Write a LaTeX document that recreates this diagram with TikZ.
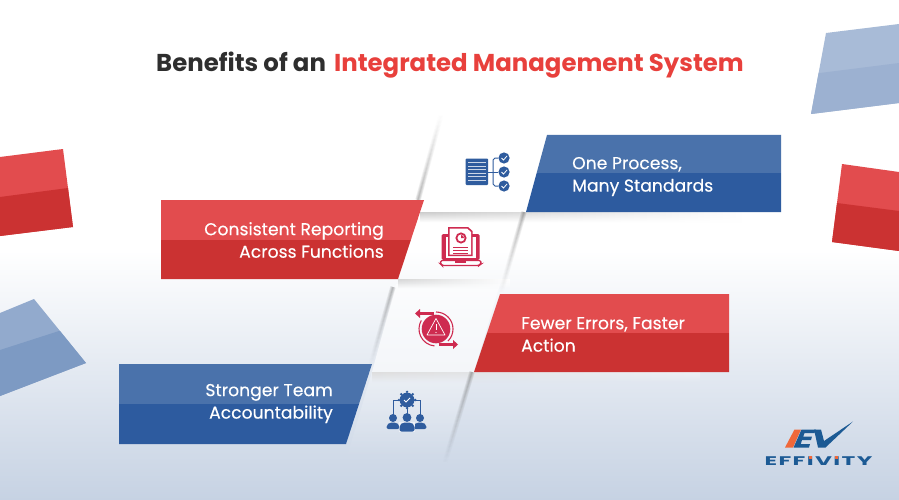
\documentclass[tikz,border=0pt]{standalone}
\usepackage{fontspec}
\setmainfont{Poppins}
\usetikzlibrary{positioning,fadings}
\definecolor{redhi}{HTML}{E24C4E}
\definecolor{redlo}{HTML}{CB3232}
\definecolor{bluehi}{HTML}{4A72AB}
\definecolor{bluelo}{HTML}{2D5B9F}
\definecolor{icored}{HTML}{CE2B50}
\definecolor{icoblue}{HTML}{2F5C9E}
\definecolor{bgend}{HTML}{C6D2E3}
\definecolor{logoblue}{HTML}{1C5A94}
\definecolor{logoora}{HTML}{F0683A}
\definecolor{headred}{HTML}{E8403C}
\tikzset{
	title/.style={font=\fontsize{24.4}{30}\selectfont\bfseries, anchor=base west, inner sep=0pt},
	label/.style={font=\fontsize{17.2}{22.5}\selectfont\addfontfeature{FakeBold=0.25}, text=white, inner sep=0pt},
	streak/.style={draw=black, line cap=butt},
}
% two tone band: #1 top, #2 bottom, #3 outline, #4 split height
\newcommand{\band}[4]{
	\begin{scope}
		\clip #3 -- cycle;
		\fill[#1] (0,0) rectangle (899,#4);
		\fill[#2] (0,#4) rectangle (899,500);
	\end{scope}
}
% soft gray line: #1 fading, #2 from, #3 to
\newcommand{\softline}[3]{
	\foreach \ww in {1,2.5,4,5.5} {
		\draw[streak, line width=\ww pt, path fading=#1, draw opacity=.075] #2 -- #3;
	}
}
\begin{document}
\begin{tikzpicture}[x=1pt, y=-1pt]
	\useasboundingbox (0,0) rectangle (899,500);
	% background
	\fill[white] (0,0) rectangle (899,250);
	\shade[top color=white, bottom color=bgend] (0,250) rectangle (899,500);

	% loose pieces at the sides
	\begin{scope}
		\clip (0,157) -- (63,149) -- (73,227) -- (0,236) -- cycle;
		\fill[redhi] (0,140) rectangle (80,240);
		\fill[redlo] (0,197) -- (68,188) -- (80,188) -- (80,240) -- (0,240) -- cycle;
	\end{scope}
	\begin{scope}
		\clip (0,313) -- (34,299) -- (86,363) -- (0,396) -- cycle;
		\fill[bluehi!60!white] (0,295) rectangle (90,400);
		\fill[bluehi!72!white] (0,350) -- (59,331) -- (90,331) -- (90,400) -- (0,400) -- cycle;
	\end{scope}
	\begin{scope}
		\clip (826,33) -- (899,24) -- (899,103) -- (811,114) -- cycle;
		\fill[bluehi!48!white] (805,20) rectangle (899,120);
		\fill[bluehi!55!white] (820,73) -- (899,63) -- (899,120) -- (805,120) -- (805,73) -- cycle;
	\end{scope}
	\begin{scope}
		\clip (842,164) -- (899,172) -- (899,251) -- (832,242) -- cycle;
		\fill[redhi] (825,160) rectangle (899,255);
		\fill[redlo] (837,203) -- (899,211) -- (899,255) -- (825,255) -- (825,203) -- cycle;
	\end{scope}

	% panels behind the icons
	\fill[white, fill opacity=.6] (396,284) -- (500,284) -- (474,372) -- (372,372) -- cycle;
	\fill[white, fill opacity=.3, path fading=south] (372,372) -- (474,372) -- (447,460) -- (346,460) -- cycle;

	% soft shadows
	\shade[left color=black!20, right color=white, path fading=south] (420,212) rectangle (745,222);
	\shade[left color=black!16, right color=white, path fading=south] (398,279) rectangle (510,288);
	\shade[left color=black!13, right color=white!70!bgend, path fading=south] (372,372) rectangle (700,382);
	\softline{north}{(441,115)}{(418,200)}
	\softline{south}{(524,212)}{(501,292)}
	\softline{south}{(393,287)}{(371,364)}
	\softline{south}{(472,372)}{(445,462)}

	% banners
	\band{bluehi}{bluelo}{(547,135) -- (781,135) -- (781,212) -- (526,212)}{173}
	\band{redhi}{redlo}{(161,200) -- (424,200) -- (398,279) -- (161,279)}{240}
	\band{redhi}{redlo}{(500,294) -- (729,294) -- (729,372) -- (474,372)}{333}
	\band{bluehi}{bluelo}{(119,364) -- (372,364) -- (346,444) -- (119,444)}{404}

	% texts
	\node[title] (head) at (156,72) {\textcolor{black!82}{Benefits of an}\hspace{3pt} \textcolor{headred}{Integrated Management System}};
	\node[label, align=left, anchor=west] (one) at (572,176.5) {One Process,\\Many Standards};
	\node[label, align=right, anchor=east] (two) at (384,240) {Consistent Reporting\\Across Functions};
	\node[label, align=left, anchor=west] (three) at (521,334.5) {Fewer Errors, Faster\\Action};
	\node[label, align=right, anchor=east] (four) at (333,403.5) {Stronger Team\\Accountability};

	% icon: document and checks
	\fill[icoblue, rounded corners=1pt] (465.5,158.5) rectangle (488,185);
	\foreach \yy in {162.5,166,169.5,173,176.5,180} {
		\draw[white!75!icoblue, line width=.8pt] (468,\yy) -- (485.5,\yy);
	}
	\draw[icoblue, line width=1pt] (498,158) -- (495,158) -- (493,160) -- (493,184) -- (495,186) -- (498,186);
	\draw[icoblue, line width=1pt] (488,172) -- (498,172);
	\foreach \yy in {158,172,186} {
		\fill[icoblue] (504,\yy) circle (5.6);
		\draw[white, line width=.8pt] (501.5,\yy) -- (503.5,\yy+2) -- (507,\yy-2);
	}

	% icon: laptop with report
	\fill[icored, rounded corners=1.5pt] (441.5,260) -- (441.5,234) -- (479.5,234) -- (479.5,260) -- cycle;
	\fill[white] (445.5,237) rectangle (475.5,258);
	\fill[icored] (448,227) -- (468,227) -- (472.5,231) -- (472.5,256) -- (448,256) -- cycle;
	\fill[white] (449.5,228.5) -- (467,228.5) -- (471,232) -- (471,254.5) -- (449.5,254.5) -- cycle;
	\draw[icored, line width=1.8pt] (461,238) circle (4.6);
	\fill[icored] (461,238) -- (461,235) arc[start angle=-90, end angle=0, radius=3] -- cycle;
	\foreach \yy in {247,250,253} {
		\draw[icored, line width=1pt] (453,\yy) -- (468,\yy);
	}
	\draw[icored, line width=1.4pt, rounded corners=1.5pt, fill=white] (440.5,260.5) -- (481,260.5) -- (481,264) -- (479,265.5) -- (442,265.5) -- (440.5,264) -- cycle;
	\fill[icored] (455,260.5) rectangle (466,263);

	% icon: warning with arrows
	\fill[icored] (436,329) circle (14.3);
	\draw[icored, line width=1.1pt] (436,329) ++(270:17) arc[start angle=270, end angle=405, radius=17];
	\draw[icored, line width=1.1pt] (436,329) ++(95:17) arc[start angle=95, end angle=210, radius=17];
	\draw[icored, line width=2.4pt] (434,313.5) -- (419,313.5);
	\fill[icored] (420,309) -- (415,313.5) -- (420,318) -- cycle;
	\draw[icored, line width=2.4pt] (439,344.5) -- (454,344.5);
	\fill[icored] (453,340) -- (458,344.5) -- (453,349) -- cycle;
	\draw[white, line width=.7pt, line join=round] (436,318.5) -- (427,335) -- (445,335) -- cycle;
	\draw[white, line width=1pt] (436,324) -- (436,330);
	\fill[white] (436,332.5) circle (.6);

	% icon: gear over three people
	\draw[icoblue, line width=1pt] (393,416) -- (393,400) -- (420,400) -- (420,416);
	\draw[icoblue, line width=1pt] (407,405) -- (407,416);
	\foreach \aa in {0,45,...,315} {
		\fill[icoblue] (407,400) ++(\aa:8.2) circle (1.3);
	}
	\fill[icoblue] (407,400) circle (7.4);
	\draw[white, line width=.9pt] (404,400) -- (406,402) -- (410,398);
	\foreach \xx/\bb in {393/431,420/431} {
		\fill[icoblue] (\xx,418) circle (4);
		\fill[icoblue, rounded corners=2pt] (\xx-6.5,\bb-2) -- (\xx-6.5,425) -- (\xx-3,422.5) -- (\xx+3,422.5) -- (\xx+6.5,425) -- (\xx+6.5,\bb-2) -- cycle;
	}
	\fill[icoblue] (407,417.5) circle (4.4);
	\fill[white!70!bgend] (399,421.5) rectangle (415,432);
	\fill[icoblue, rounded corners=2pt] (399.5,431.5) -- (399.5,425) -- (403,422.5) -- (411,422.5) -- (414.5,425) -- (414.5,431.5) -- cycle;

	% logo
	\fill[logoora] (794.5,429.5) -- (801,429.5) -- (793,447.5) -- (785,447.5) -- cycle;
	\fill[logoblue] (801.5,429.5) -- (816,429.5) -- (814.5,433) -- (804.5,433) -- (803.3,436.5) -- (812,436.5) -- (811,440) -- (802,440) -- (800.8,444) -- (810,444) -- (809,447.5) -- (793.5,447.5) -- cycle;
	\fill[logoblue] (814,429.5) -- (821,429.5) -- (824,441) -- (853,421.5) -- (825.5,447.5) -- (818,447.5) -- cycle;
	\node[font=\fontsize{12.5}{13}\selectfont\bfseries, text=logoblue, inner sep=0pt, xscale=1.86] (logo) at (818.5,461) {\addfontfeature{LetterSpace=6}EFFIVITY};
	\fill[logoora] (808.5,456) rectangle (812,459);
	\fill[logoora] (834.5,456) rectangle (838,459);
\end{tikzpicture}
\end{document}
